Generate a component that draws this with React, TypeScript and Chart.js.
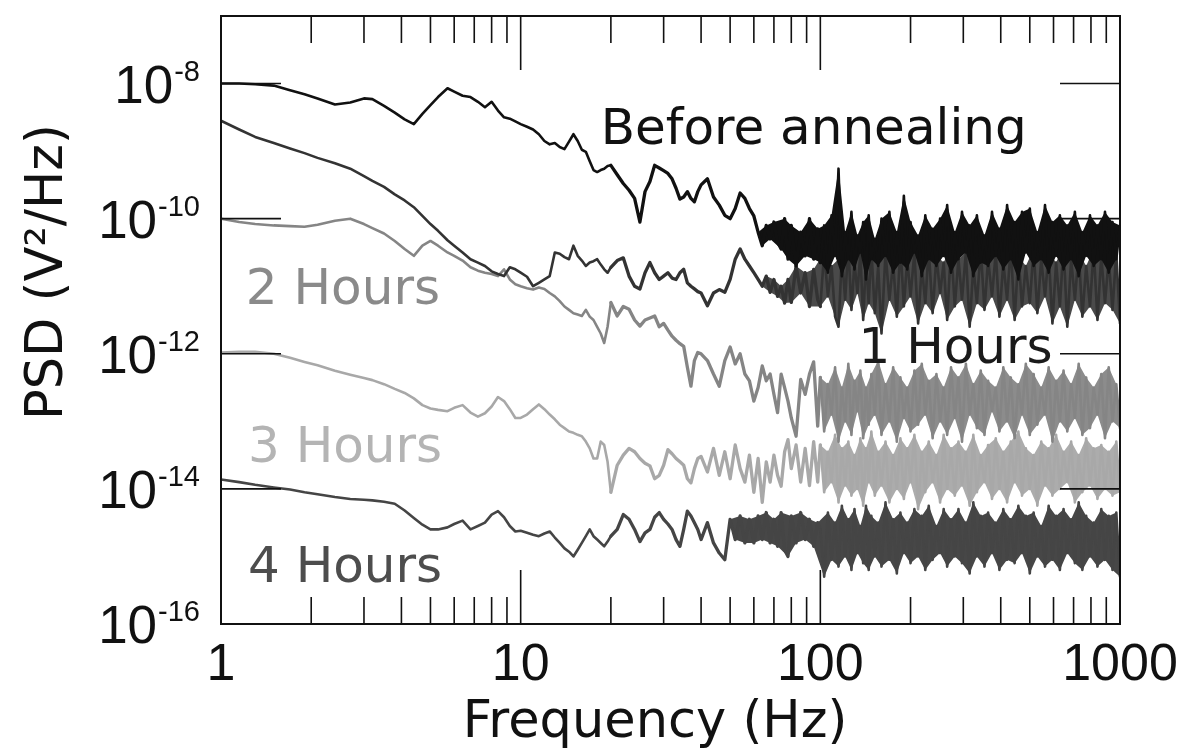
import React, { useEffect, useRef } from 'react';
import { Chart, registerables } from 'chart.js';

Chart.register(...registerables);

// Frequency grid (Hz) shared by every trace
const freqHz = [
  1, 1.15, 1.3, 1.5, 1.7, 1.9, 2.1, 2.4, 2.7, 3,
  3.2, 3.5, 3.8, 4.1, 4.4, 4.7, 5, 5.3, 5.7, 6,
  6.4, 6.8, 7.2, 7.6, 8, 8.4, 8.8, 9.2, 9.6,
  10, 10.5, 11, 11.5, 12, 12.5, 13, 13.5, 14, 14.5,
  15, 15.5, 16, 16.5, 17, 17.5, 18, 18.5, 19, 19.5,
  20, 21, 22, 23, 24, 25, 26, 27, 28, 29,
  30, 31, 32, 33, 34, 35, 36, 37, 38, 39,
  40, 42, 44, 46, 48, 50, 52, 54, 56, 58,
  60, 62, 64, 66, 68, 70, 72, 74, 76, 78,
  80, 83, 86, 89, 92, 95, 98,
  100, 103, 106, 109, 112, 115, 118, 121, 124, 127,
  130, 133, 136, 139, 142, 145, 148, 152, 156, 160,
  165, 170, 175, 180, 185, 190, 195, 200, 206, 212,
  218, 224, 230, 237, 244, 251, 258, 265, 273, 281,
  289, 297, 306, 315, 324, 333, 343, 353, 363, 374,
  385, 396, 408, 420, 432, 445, 458, 471, 485, 500,
  515, 530, 546, 562, 578, 595, 612, 630, 648, 667,
  687, 707, 728, 749, 771, 794, 817, 841, 866, 891,
  917, 944, 972, 1000,
];

// PSD values, stored as log10(PSD in V²/Hz)
const beforeAnnealingLog = [
  -8.0, -8.0, -8.01, -8.03, -8.1, -8.16, -8.22, -8.31, -8.28, -8.22,
  -8.23, -8.33, -8.43, -8.53, -8.6, -8.45, -8.32, -8.2, -8.07, -8.12,
  -8.18, -8.2, -8.27, -8.35, -8.27, -8.4, -8.5, -8.52, -8.56,
  -8.6, -8.64, -8.68, -8.75, -8.85, -8.9, -8.88, -8.94, -8.97, -8.86,
  -8.75, -8.85, -8.98, -9.01, -9.15, -9.28, -9.31, -9.28, -9.26, -9.22,
  -9.21, -9.35, -9.48, -9.58, -9.7, -10.05, -9.6, -9.45, -9.21, -9.25,
  -9.29, -9.33, -9.41, -9.55, -9.71, -9.68, -9.6, -9.7, -9.75, -9.6,
  -9.5, -9.41, -9.68, -9.8, -9.95, -10.0, -9.85, -9.62, -9.7, -9.85,
  -9.96, -10.2, -10.4, -10.1, -10.3, -10.05, -10.35, -10.45, -10.0, -10.6,
  -10.1, -10.7, -10.2, -10.55, -10.0, -10.6, -10.15,
  -10.65, -10.1, -10.8, -9.95, -10.55, -9.26, -10.85, -10.2, -10.6, -9.9,
  -10.75, -10.25, -10.5, -10.05, -10.9, -9.95, -10.6, -10.3, -10.7, -10.0,
  -10.55, -9.9, -10.8, -10.2, -10.65, -9.66, -10.75, -10.05, -10.5, -10.25,
  -10.85, -9.95, -10.6, -10.15, -10.7, -10.0, -10.55, -9.8, -10.8, -10.2,
  -10.6, -9.9, -10.5, -10.1, -10.85, -9.95, -10.65, -10.25, -10.7, -9.9,
  -10.55, -10.15, -10.75, -9.8, -10.6, -10.05, -10.9, -9.9, -10.5, -9.85,
  -10.7, -10.2, -10.6, -9.8, -10.8, -10.05, -10.55, -9.95, -10.75, -10.1,
  -10.6, -9.9, -10.85, -10.2, -10.55, -9.95, -10.7, -10.1, -10.6, -9.9,
  -10.8, -10.05, -10.6, -10.1,
];

const oneHourLog = [
  -8.55, -8.68, -8.79, -8.88, -8.96, -9.03, -9.1, -9.18, -9.26, -9.37,
  -9.44, -9.53, -9.64, -9.73, -9.83, -9.96, -10.08, -10.18, -10.32, -10.4,
  -10.5, -10.6, -10.65, -10.7, -10.78, -10.82, -10.85, -10.72, -10.75,
  -10.8, -10.86, -11.0, -10.95, -10.9, -10.85, -10.5, -10.52, -10.57, -10.6,
  -10.4, -10.55, -10.62, -10.7, -10.65, -10.63, -10.6, -10.68, -10.75, -10.8,
  -10.72, -10.62, -10.58, -10.85, -11.0, -11.04, -10.8, -10.65, -10.8, -10.9,
  -10.85, -10.8, -10.88, -10.9, -10.8, -10.75, -10.95, -11.0, -11.04, -11.08,
  -11.1, -11.29, -11.1, -11.05, -11.09, -10.9, -10.6, -10.45, -10.6, -10.7,
  -10.8, -10.9, -11.0, -10.85, -11.09, -10.9, -11.15, -11.0, -11.25, -10.9,
  -11.24, -10.7, -11.1, -10.8, -11.3, -10.75, -11.2,
  -11.3, -10.5, -11.15, -10.7, -11.45, -11.6, -10.55, -11.2, -10.4, -11.35,
  -10.65, -11.1, -10.5, -11.5, -10.6, -11.25, -10.45, -11.4, -10.7, -11.7,
  -10.5, -11.2, -10.65, -11.45, -10.4, -11.3, -10.6, -11.15, -10.5, -11.55,
  -10.7, -11.25, -10.45, -11.4, -10.55, -11.1, -10.65, -11.5, -10.4, -11.3,
  -10.6, -11.2, -10.5, -11.6, -10.7, -11.25, -10.45, -11.35, -10.6, -11.15,
  -10.5, -11.45, -10.65, -11.2, -10.4, -11.5, -10.55, -11.3, -10.7, -11.25,
  -10.45, -11.4, -10.6, -11.15, -10.5, -11.55, -10.65, -11.3, -10.4, -11.6,
  -10.6, -11.2, -10.5, -11.45, -10.7, -11.3, -10.45, -11.5, -10.55, -11.25,
  -10.6, -11.35, -10.5, -11.55,
];

const twoHoursLog = [
  -10.0, -10.05, -10.08, -10.1, -10.11, -10.12, -10.09, -10.03, -10.0, -10.08,
  -10.14, -10.22, -10.33, -10.45, -10.55, -10.4, -10.33, -10.4, -10.5, -10.55,
  -10.62, -10.72, -10.77, -10.8, -10.82, -10.85, -10.75, -10.9, -10.97,
  -11.0, -11.03, -11.05, -11.02, -11.04, -11.1, -11.15, -11.22, -11.3, -11.35,
  -11.4, -11.42, -11.44, -11.35, -11.45, -11.5, -11.6, -11.7, -11.84, -11.6,
  -11.24, -11.44, -11.3, -11.34, -11.5, -11.59, -11.5, -11.47, -11.44, -11.6,
  -11.55, -11.65, -11.74, -11.8, -11.85, -11.89, -12.2, -12.48, -12.1, -11.98,
  -12.0, -12.1, -12.3, -12.48, -12.1, -11.9, -12.15, -12.0, -12.3, -12.4,
  -12.7, -12.5, -12.18, -12.4, -12.3, -12.6, -12.87, -12.3, -12.5, -12.7,
  -12.95, -13.22, -12.38, -12.6, -12.3, -12.12, -13.07,
  -12.35, -13.15, -12.45, -12.9, -12.2, -13.3, -12.5, -13.0, -12.15, -13.2,
  -12.4, -12.85, -12.25, -13.25, -12.5, -13.05, -12.3, -12.9, -12.1, -13.2,
  -12.45, -13.0, -12.2, -13.3, -12.35, -12.95, -12.5, -13.15, -12.25, -13.05,
  -12.15, -12.9, -12.4, -13.25, -12.3, -13.0, -12.5, -13.2, -12.2, -12.95,
  -12.35, -13.3, -12.15, -12.9, -12.45, -13.1, -12.25, -13.2, -12.4, -12.85,
  -12.5, -13.15, -12.2, -13.0, -12.35, -13.25, -12.45, -12.9, -12.15, -13.2,
  -12.3, -13.05, -12.5, -12.9, -12.2, -13.3, -12.4, -13.0, -12.25, -13.15,
  -12.45, -12.95, -12.15, -13.2, -12.35, -13.1, -12.5, -12.9, -12.3, -13.25,
  -12.2, -13.0, -12.45, -13.1,
];

const threeHoursLog = [
  -11.98, -11.97, -11.97, -12.0, -12.06, -12.12, -12.17, -12.25, -12.31, -12.36,
  -12.39, -12.45, -12.52, -12.58, -12.66, -12.76, -12.81, -12.83, -12.85, -12.8,
  -12.76, -12.87, -12.93, -12.88, -12.78, -12.64, -12.7, -12.82, -12.95,
  -12.95, -12.9, -12.82, -12.75, -12.82, -12.9, -12.97, -13.05, -13.1, -13.15,
  -13.17, -13.2, -13.22, -13.3, -13.4, -13.55, -13.55, -13.3, -13.35, -13.6,
  -14.05, -13.65, -13.5, -13.4, -13.45, -13.55, -13.62, -13.66, -13.85, -13.8,
  -13.65, -13.42, -13.48, -13.55, -13.6, -13.65, -13.85, -13.91, -13.7, -13.55,
  -13.52, -13.75, -13.4, -13.8, -13.45, -13.85, -13.35, -13.7, -13.9, -13.5,
  -14.05, -13.55, -14.2, -13.6, -13.9, -13.5, -13.8, -13.96, -13.45, -13.27,
  -13.7, -13.35, -13.9, -13.4, -13.95, -13.3, -13.9,
  -13.35, -14.05, -13.45, -13.9, -13.2, -14.2, -13.4, -13.95, -13.3, -14.1,
  -13.5, -14.0, -13.25, -14.25, -13.4, -13.9, -13.15, -14.1, -13.45, -13.95,
  -13.3, -14.2, -13.5, -14.0, -13.25, -14.15, -13.4, -13.9, -13.2, -14.3,
  -13.45, -14.05, -13.3, -13.9, -13.5, -14.2, -13.2, -14.0, -13.4, -14.1,
  -13.3, -13.95, -13.45, -14.25, -13.2, -14.05, -13.5, -13.9, -13.35, -14.15,
  -13.25, -14.0, -13.45, -14.2, -13.3, -13.9, -13.15, -14.1, -13.4, -14.0,
  -13.5, -14.25, -13.3, -13.95, -13.4, -14.1, -13.2, -14.0, -13.45, -13.9,
  -13.3, -14.2, -13.5, -14.05, -13.25, -13.95, -13.4, -14.15, -13.35, -14.0,
  -13.45, -14.1, -13.3, -14.05,
];

const fourHoursLog = [
  -13.86, -13.9, -13.94, -13.98, -14.01, -14.05, -14.08, -14.12, -14.15, -14.16,
  -14.17, -14.19, -14.22, -14.32, -14.43, -14.53, -14.6, -14.6, -14.57, -14.52,
  -14.47, -14.6, -14.55, -14.5, -14.38, -14.33, -14.42, -14.55, -14.63,
  -14.62, -14.65, -14.68, -14.7, -14.66, -14.63, -14.72, -14.8, -14.88, -14.93,
  -15.0, -14.9, -14.8, -14.7, -14.6, -14.7, -14.75, -14.8, -14.85, -14.78,
  -14.7, -14.6, -14.38, -14.45, -14.6, -14.78, -14.65, -14.6, -14.42, -14.35,
  -14.45, -14.52, -14.6, -14.75, -14.85, -14.6, -14.33, -14.4, -14.5, -14.6,
  -14.75, -14.5, -14.8, -14.95, -15.05, -14.45, -14.75, -14.4, -14.8, -14.45,
  -14.8, -14.4, -14.75, -14.35, -14.8, -14.45, -14.85, -14.35, -14.9, -15.0,
  -14.4, -14.8, -14.35, -14.75, -14.45, -14.85, -14.5,
  -14.6, -15.3, -14.35, -15.05, -14.5, -15.15, -14.25, -15.0, -14.45, -15.2,
  -14.3, -14.95, -14.55, -15.1, -14.25, -15.2, -14.4, -15.0, -14.5, -15.15,
  -14.2, -15.05, -14.45, -15.25, -14.35, -14.95, -14.5, -15.1, -14.3, -15.0,
  -14.4, -15.2, -14.25, -15.05, -14.55, -14.95, -14.3, -15.15, -14.45, -15.0,
  -14.3, -15.1, -14.5, -15.25, -14.2, -15.0, -14.4, -15.15, -14.35, -14.95,
  -14.5, -15.2, -14.3, -15.05, -14.45, -15.1, -14.25, -14.95, -14.4, -15.25,
  -14.35, -15.0, -14.55, -15.15, -14.25, -15.05, -14.4, -15.2, -14.3, -14.95,
  -14.45, -15.1, -14.2, -15.2, -14.4, -15.0, -14.5, -15.15, -14.3, -15.05,
  -14.4, -15.2, -14.35, -15.3,
];

const seriesNames = ['Before annealing', '1 Hours', '2 Hours', '3 Hours', '4 Hours'];
const seriesColors = ['#111111', '#333333', '#858585', '#a8a8a8', '#454545'];
const bandColors = ['#111111', '#4a4a4a', '#8c8c8c', '#acacac', '#474747'];
const labelColors = ['#111111', '#1a1a1a', '#8a8a8a', '#b4b4b4', '#4d4d4d'];
// frequency from which each spectrum is so dense that it reads as a filled band
const bandStartHz = [62, 64, 100, 100, 50];

// Axis ticks
const xMajorTicks = [1, 10, 100, 1000];
const xTickLabels = ['1', '10', '100', '1000'];
const yMajorTicks = [1e-8, 1e-10, 1e-12, 1e-14];
const yLabelExponents = [-8, -10, -12, -14, -16];

// In-plot label anchors (data coordinates: Hz, V²/Hz)
const labelFreq = [18.5, 134, 1.21, 1.23, 1.23];
const labelPsd = [1.29e-9, 7.4e-13, 5.4e-12, 2.5e-14, 4.2e-16];

const W = 1187;
const H = 756;
const WORD_FONT = '"DejaVu Sans", "Liberation Sans", sans-serif';
const NUM_FONT = '"Liberation Sans", Arial, sans-serif';

const widthForFreq = (f: number) => (f >= 100 ? 2.6 : f >= 20 ? 3.3 : 2.6);

// upper / lower envelope of the dense part: the local peaks and troughs of the read values
function envelope(logArr: number[], startHz: number, upper: boolean) {
  const idx = freqHz.map((_, i) => i).filter((i) => freqHz[i] >= startHz);
  const pts: { x: number; y: number }[] = [];
  idx.forEach((i, n) => {
    const v = logArr[i];
    const prev = logArr[i - 1];
    const next = logArr[i + 1];
    const edge = n === 0 || n === idx.length - 1;
    const keep = upper ? v >= prev && v >= next : v <= prev && v <= next;
    if (edge || keep) pts.push({ x: freqHz[i], y: Math.pow(10, v) });
  });
  return pts;
}

export default function App() {
  const ref = useRef<HTMLCanvasElement>(null);

  useEffect(() => {
    const canvas = ref.current;
    if (!canvas) return;
    const logs = [beforeAnnealingLog, oneHourLog, twoHoursLog, threeHoursLog, fourHoursLog];

    const datasets: any[] = [];
    seriesNames.forEach((name, i) => {
      const base = datasets.length;
      datasets.push({
        label: name,
        data: freqHz.map((f, k) => ({ x: f, y: Math.pow(10, logs[i][k]) })),
        borderColor: seriesColors[i],
        backgroundColor: seriesColors[i],
        borderWidth: 2.6,
        borderJoinStyle: 'round',
        borderCapStyle: 'round',
        segment: { borderWidth: (c: any) => widthForFreq(c.p0.parsed.x) },
        pointRadius: 0,
        fill: false,
        tension: 0,
      });
      datasets.push({
        label: name + ' (upper envelope)',
        data: envelope(logs[i], bandStartHz[i], true),
        borderWidth: 0,
        borderColor: 'rgba(0,0,0,0)',
        backgroundColor: bandColors[i],
        pointRadius: 0,
        tension: 0,
        fill: base + 2,
      });
      datasets.push({
        label: name + ' (lower envelope)',
        data: envelope(logs[i], bandStartHz[i], false),
        borderWidth: 0,
        borderColor: 'rgba(0,0,0,0)',
        backgroundColor: bandColors[i],
        pointRadius: 0,
        tension: 0,
        fill: false,
      });
    });

    const decorations = {
      id: 'decorations',
      afterDatasetsDraw(chart: any) {
        const { ctx, chartArea: a, scales } = chart;
        const xs = scales.x;
        const ys = scales.y;
        ctx.save();
        ctx.strokeStyle = '#111';
        ctx.lineWidth = 1.6;
        ctx.beginPath();
        for (let d = 1; d < 1000; d *= 10) {
          for (let m = 1; m < 10; m++) {
            const v = d * m;
            if (v <= 1 || v >= 1000) continue;
            const px = xs.getPixelForValue(v);
            const len = m === 1 ? 54 : 27;
            ctx.moveTo(px, a.top);
            ctx.lineTo(px, a.top + len);
            ctx.moveTo(px, a.bottom);
            ctx.lineTo(px, a.bottom - len);
          }
        }
        for (const v of yMajorTicks) {
          const py = ys.getPixelForValue(v);
          ctx.moveTo(a.left, py);
          ctx.lineTo(a.left + 60, py);
          ctx.moveTo(a.right, py);
          ctx.lineTo(a.right - 60, py);
        }
        ctx.stroke();
        ctx.lineWidth = 2;
        ctx.strokeRect(a.left, a.top, a.right - a.left, a.bottom - a.top);
        ctx.restore();
      },
      afterDraw(chart: any) {
        const { ctx, scales } = chart;
        const xs = scales.x;
        const ys = scales.y;
        ctx.save();
        ctx.fillStyle = '#111';
        ctx.textBaseline = 'alphabetic';

        // x tick labels
        ctx.font = `52px ${NUM_FONT}`;
        ctx.textAlign = 'center';
        xMajorTicks.forEach((v, i) => {
          ctx.fillText(xTickLabels[i], xs.getPixelForValue(v), 680);
        });

        // y tick labels 10^n
        const labelRight = 200;
        yLabelExponents.forEach((e) => {
          const py = ys.getPixelForValue(Math.pow(10, e));
          const sup = '-' + String(-e);
          ctx.font = `29px ${NUM_FONT}`;
          ctx.textAlign = 'right';
          const sw = ctx.measureText(sup).width;
          ctx.fillText(sup, labelRight, py - 3);
          ctx.font = `53px ${NUM_FONT}`;
          ctx.fillText('10', labelRight - sw - 1, py + 19);
        });

        // axis titles
        ctx.font = `51px ${WORD_FONT}`;
        ctx.textAlign = 'center';
        ctx.fillText('Frequency (Hz)', 655, 737);
        ctx.save();
        ctx.translate(62, 272);
        ctx.rotate(-Math.PI / 2);
        ctx.fillText('PSD (V²/Hz)', 0, 0);
        ctx.restore();

        // in-plot series labels
        ctx.font = `50px ${WORD_FONT}`;
        ctx.textAlign = 'left';
        seriesNames.forEach((name, i) => {
          ctx.fillStyle = labelColors[i];
          ctx.fillText(name, xs.getPixelForValue(labelFreq[i]), ys.getPixelForValue(labelPsd[i]));
        });
        ctx.restore();
      },
    };

    const chart = new Chart(canvas, {
      type: 'line',
      data: { datasets },
      options: {
        responsive: false,
        animation: false,
        devicePixelRatio: 1,
        events: [],
        layout: { padding: { left: 0, top: 16, right: 67, bottom: 0 } },
        plugins: { legend: { display: false }, tooltip: { enabled: false } },
        scales: {
          x: {
            type: 'logarithmic',
            min: 1,
            max: 1000,
            grid: { display: false },
            border: { display: false },
            ticks: { display: false },
            afterFit: (s: any) => { s.height = 132; },
          },
          y: {
            type: 'logarithmic',
            min: 1e-16,
            max: 1e-7,
            grid: { display: false },
            border: { display: false },
            ticks: { display: false },
            afterFit: (s: any) => { s.width = 221; },
          },
        },
      },
      plugins: [decorations],
    } as any);

    return () => chart.destroy();
  }, []);

  return (
    <div style={{ position: 'fixed', left: 0, top: 0, width: W, height: H, background: '#fff' }}>
      <canvas ref={ref} width={W} height={H} style={{ display: 'block', width: W, height: H }} />
    </div>
  );
}
